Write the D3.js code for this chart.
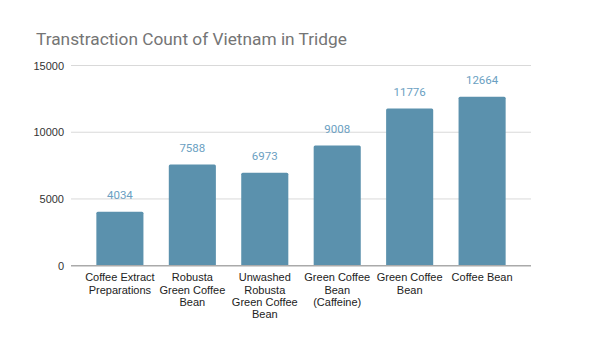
<!DOCTYPE html>
<html>
<head>
<meta charset="utf-8">
<script src="https://cdn.jsdelivr.net/npm/d3@7"></script>
<style>
  body { margin: 0; background: #fff; }
</style>
</head>
<body>
<div id="chart"></div>
<script>
const title = 'Transtraction Count of Vietnam in Tridge';
const categories = [
  'Coffee Extract Preparations',
  'Robusta Green Coffee Bean',
  'Unwashed Robusta Green Coffee Bean',
  'Green Coffee Bean (Caffeine)',
  'Green Coffee Bean',
  'Coffee Bean'
];
const counts = [4034, 7588, 6973, 9008, 11776, 12664];
const yTicks = [0, 5000, 10000, 15000];

const W = 600, H = 351;
const margin = { top: 65.5, right: 69, bottom: 85.3, left: 71 };
const width = W - margin.left - margin.right;
const height = H - margin.top - margin.bottom;

const svg = d3.select('#chart')
  .append('svg')
  .attr('width', W)
  .attr('height', H);

svg.append('rect')
  .attr('width', W)
  .attr('height', H)
  .attr('fill', '#fff');

// Title
svg.append('text')
  .attr('x', 36)
  .attr('y', 45)
  .style('font-family', 'Roboto, sans-serif')
  .style('font-size', '17.3px')
  .attr('fill', '#757575')
  .text(title);

const g = svg.append('g')
  .attr('transform', `translate(${margin.left},${margin.top})`);

const x = d3.scaleBand()
  .domain(categories)
  .range([0, width])
  .padding(0.35);

const y = d3.scaleLinear()
  .domain([0, 15000])
  .range([height, 0]);

// Gridlines
g.append('g')
  .selectAll('line')
  .data(yTicks.filter(d => d > 0))
  .join('line')
  .attr('x1', 0)
  .attr('x2', width)
  .attr('y1', d => y(d))
  .attr('y2', d => y(d))
  .attr('stroke', '#d9d9d9')
  .attr('stroke-width', 1);

// Y axis labels
const yAxis = g.append('g')
  .call(d3.axisLeft(y).tickValues(yTicks).tickFormat(d3.format('d')).tickSize(0).tickPadding(7));
yAxis.select('.domain').remove();
yAxis.selectAll('text')
  .style('font-family', 'Liberation Sans, Arial, sans-serif')
  .style('font-size', '11px')
  .attr('fill', '#333');

// Bars
g.selectAll('.bar')
  .data(counts)
  .join('rect')
  .attr('class', 'bar')
  .attr('x', (d, i) => x(categories[i]))
  .attr('y', d => y(d))
  .attr('width', x.bandwidth())
  .attr('height', d => height - y(d))
  .attr('rx', 1.5)
  .attr('fill', '#5b91ad');

// Value labels
g.selectAll('.value')
  .data(counts)
  .join('text')
  .attr('class', 'value')
  .attr('x', (d, i) => x(categories[i]) + x.bandwidth() / 2)
  .attr('y', d => y(d) - 12.5)
  .attr('text-anchor', 'middle')
  .style('font-family', 'Roboto, sans-serif')
  .style('font-size', '11.5px')
  .attr('fill', '#6b9fc2')
  .text(d => d);

// Baseline
g.append('line')
  .attr('x1', 0)
  .attr('x2', width)
  .attr('y1', height)
  .attr('y2', height)
  .attr('stroke', '#aaa')
  .attr('stroke-width', 1.5);

// X axis labels, wrapped to the band step
const xAxis = g.append('g')
  .attr('transform', `translate(0,${height})`)
  .call(d3.axisBottom(x).tickSize(0).tickPadding(8));
xAxis.select('.domain').remove();
xAxis.selectAll('text')
  .style('font-family', 'Liberation Sans, Arial, sans-serif')
  .style('font-size', '11px')
  .attr('fill', '#222')
  .each(function(label) {
    const t = d3.select(this);
    const words = label.split(' ');
    const maxW = x.step();
    const lines = [];
    let cur = [];
    t.text(null);
    const probe = t.append('tspan');
    words.forEach(w => {
      const test = cur.concat([w]).join(' ');
      probe.text(test);
      if (cur.length && probe.node().getComputedTextLength() > maxW) {
        lines.push(cur.join(' '));
        cur = [w];
      } else {
        cur.push(w);
      }
    });
    lines.push(cur.join(' '));
    probe.remove();
    const y0 = t.attr('y');
    lines.forEach((ln, i) => {
      t.append('tspan')
        .attr('x', 0)
        .attr('y', y0)
        .attr('dy', (0.71 + i * 1.12) + 'em')
        .text(ln);
    });
  });
</script>
</body>
</html>
